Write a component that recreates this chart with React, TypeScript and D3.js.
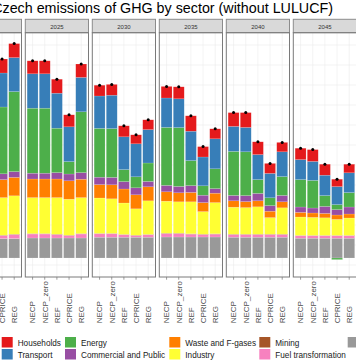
import React from "react";
import * as d3 from "d3";

const years = ["2020", "2025", "2030", "2035", "2040", "2045"];
const scenarios = ["NECP", "NECP_zero", "REF", "CPRICE", "REG"];

// visible bars (first panel only shows its last two bars)
const barYears = ["2020", "2020",
  "2025", "2025", "2025", "2025", "2025",
  "2030", "2030", "2030", "2030", "2030",
  "2035", "2035", "2035", "2035", "2035",
  "2040", "2040", "2040", "2040", "2040",
  "2045", "2045", "2045", "2045", "2045"];
const barScenarios = ["CPRICE", "REG",
  ...scenarios, ...scenarios, ...scenarios, ...scenarios, ...scenarios];

const agriculture = [9.7, 9.7, 10, 10, 10, 10, 10, 10.4, 10.4, 10.4, 10.4, 10.4, 10.5, 10.5, 10.5, 10.5, 10.5, 10.4, 10.4, 10.4, 10.4, 10.4, 9.9, 9.9, 9.9, 9.9, 9.9];
const fuelTransformation = [1.5, 2.0, 2, 2, 1.7, 1.2, 2, 1.7, 1.7, 1.2, 0.8, 1.2, 1.7, 1.7, 1.4, 1.2, 1.4, 1.3, 1.3, 1.3, 1.3, 1.3, 1.2, 1.2, 1.2, 1.2, 1.2];
const mining = [0.2, 0.2, 0.2, 0.2, 0.2, 0.2, 0.2, 0.2, 0.2, 0.2, 0.2, 0.2, 0.2, 0.2, 0.2, 0.2, 0.2, 0.2, 0.2, 0.2, 0.2, 0.2, 0.2, 0.2, 0.2, 0.2, 0.2];
const industry = [18.8, 19.2, 18.0, 18.0, 18.3, 18.0, 18.0, 17.7, 17.3, 15.7, 13.2, 16.8, 16.0, 15.7, 16.0, 11.3, 15.6, 13.5, 13.3, 13.7, 8.3, 13.2, 9.2, 9.0, 8.8, 8.0, 8.7];
const waste = [9.0, 9.2, 9.3, 9.3, 9.3, 9.2, 9.2, 6.7, 7.0, 7.0, 7.0, 7.0, 4.7, 4.5, 4.7, 4.5, 4.7, 3.2, 3.0, 3.0, 3.2, 3.0, 2.3, 2.2, 2.2, 2.2, 2.0];
const commercial = [2.9, 2.9, 2.9, 2.9, 3.2, 3.4, 3.3, 3.7, 3.7, 3.7, 3.5, 2.7, 3.2, 3.2, 3.4, 3.7, 2.3, 2.7, 3.0, 3.7, 2.8, 3.2, 2.7, 2.5, 3.5, 2.7, 3.5];
const energy = [33.4, 40.0, 32.5, 32.5, 22.2, 6.2, 30.4, 24.4, 24.4, 6.0, 5.5, 9.2, 29.0, 29.4, 12.5, 4.7, 9.9, 22.0, 21.9, 6.9, 3.9, 9.4, 13.7, 13.8, 5.4, 2.5, 7.2];
const energyNegative = [0, 0, 0, 0, 0, 0, 0, 0, 0, 0, 0, 0, 0, 0, 0, 0, 0, 0, 0, 0, 0, 0, 0, 0, 0, -0.8, 0];
const transport = [17.0, 17.0, 17.2, 17.2, 17.5, 17.4, 17.2, 16.2, 16.7, 16.4, 16.5, 16.7, 14.7, 14.4, 14.7, 14.4, 15.0, 12.5, 12.2, 12.5, 12.2, 12.4, 10.0, 9.5, 10.2, 9.0, 9.9];
const households = [7.0, 7.0, 6.5, 6.5, 7.0, 6.0, 6.7, 5.4, 5.4, 5.5, 4.5, 4.9, 5.8, 6.0, 7.7, 5.2, 5.0, 6.9, 7.4, 6.4, 5.0, 4.7, 5.7, 5.9, 5.5, 3.7, 4.3];

const legendLabels = ["Households", "Transport", "Energy", "Commercial and Public", "Waste and F-gases", "Industry", "Mining", "Fuel transformation", "Agriculture"];
const legendColors = ["#E41A1C", "#377EB8", "#4DAF4A", "#984EA3", "#FF7F00", "#FFFF33", "#A65628", "#F781BF", "#999999"];

const gridValues = [-3.5, 6.5, 16.5, 26.5, 36.5, 46.5, 56.5, 66.5, 76.5, 86.5, 96.5, 106.5];

const title = "Czech emissions of GHG by sector (without LULUCF)";

const seriesKeys = ["Agriculture", "Fuel transformation", "Mining", "Industry", "Waste and F-gases", "Commercial and Public", "Energy", "EnergyNeg", "Transport", "Households"];
const seriesArrays: Record<string, number[]> = {
  "Agriculture": agriculture,
  "Fuel transformation": fuelTransformation,
  "Mining": mining,
  "Industry": industry,
  "Waste and F-gases": waste,
  "Commercial and Public": commercial,
  "Energy": energy,
  "EnergyNeg": energyNegative,
  "Transport": transport,
  "Households": households,
};
const colorOf = (k: string) => k === "EnergyNeg" ? legendColors[2] : legendColors[legendLabels.indexOf(k)];

export default function App() {
  const W = 356, H = 364;
  const panelW = 63.2;
  const panelTop = 32.7, panelBottom = 277, stripTop = 19.3;
  const y = d3.scaleLinear().domain([0, 100]).range([258, 58]);
  const panelLeft = d3.scaleLinear().domain([0, 1]).range([-41.7, 25.3]);
  const band = d3.scaleBand<string>().domain(scenarios).range([0, panelW]).paddingInner(0.1).paddingOuter(0.15);

  const rows = barYears.map((yr, i) => {
    const r: any = { year: yr, scenario: barScenarios[i] };
    seriesKeys.forEach(k => { r[k] = seriesArrays[k][i]; });
    return r;
  });
  const stacked = d3.stack<any>().keys(seriesKeys).offset(d3.stackOffsetDiverging)(rows);
  const barX = (i: number) => panelLeft(years.indexOf(barYears[i])) + (band(barScenarios[i]) as number);
  const totals = rows.map((r, i) => d3.sum(seriesKeys, k => Math.max(0, seriesArrays[k][i])));

  const font = "'Liberation Sans', Arial, sans-serif";

  return (
    <svg width={W} height={H} style={{ position: "absolute", left: 0, top: 0, background: "#fff" }} fontFamily={font}>
      <text x={333} y={13} fontSize={14.3} textAnchor="end" fill="#000">{title}</text>
      {years.map((yr, p) => {
        const x0 = panelLeft(p);
        return (
          <g key={yr}>
            <rect x={x0} y={panelTop} width={panelW} height={panelBottom - panelTop} fill="#fff" />
            {gridValues.map(v => (
              <line key={v} x1={x0} x2={x0 + panelW} y1={y(v)} y2={y(v)} stroke="#ebebeb" strokeWidth={0.6} />
            ))}
            {scenarios.map(s => {
              const cx = x0 + (band(s) as number) + band.bandwidth() / 2;
              return <line key={s} x1={cx} x2={cx} y1={panelTop} y2={panelBottom} stroke="#ebebeb" strokeWidth={0.6} />;
            })}
            <rect x={x0} y={stripTop} width={panelW} height={panelTop - stripTop} fill="#d9d9d9" stroke="#8c8c8c" strokeWidth={1} />
            <text x={x0 + panelW / 2} y={29.2} fontSize={6} textAnchor="middle" fill="#333">{yr}</text>
            {scenarios.map(s => {
              const cx = x0 + (band(s) as number) + band.bandwidth() / 2;
              return (
                <g key={"ax" + s}>
                  <line x1={cx} x2={cx} y1={panelBottom} y2={panelBottom + 2.7} stroke="#555" strokeWidth={0.6} />
                  <text transform={`translate(${cx + 2.8},323.3) rotate(-90)`} fontSize={8} fill="#4d4d4d" textAnchor="start">{s}</text>
                </g>
              );
            })}
          </g>
        );
      })}
      {stacked.map(series => (
        <g key={series.key} fill={colorOf(series.key)}>
          {series.map((d, i) => {
            const h = Math.abs(y(d[0]) - y(d[1]));
            if (h < 0.01) return null;
            return (
              <rect key={i} x={barX(i)} width={band.bandwidth()} y={Math.min(y(d[0]), y(d[1]))} height={h}
                stroke="#fff" strokeOpacity={0.3} strokeWidth={0.5} />
            );
          })}
        </g>
      ))}
      {totals.map((t, i) => (
        <circle key={i} cx={barX(i) + band.bandwidth() / 2} cy={y(t)} r={1.5} fill="#000" />
      ))}
      {years.map((yr, p) => (
        <rect key={"b" + yr} x={panelLeft(p)} y={panelTop} width={panelW} height={panelBottom - panelTop} fill="none" stroke="#7a7a7a" strokeWidth={1} />
      ))}
      {legendLabels.map((lab, i) => {
        const colX = [1.7, 65, 169.3, 259.3, 347.7][Math.floor(i / 2)];
        const ky = i % 2 === 0 ? 337 : 349;
        return (
          <g key={lab}>
            <rect x={colX} y={ky} width={11} height={10.5} fill={legendColors[i]} />
            <text x={colX + 16} y={ky + 8.8} fontSize={8.2} fill="#1a1a1a">{lab}</text>
          </g>
        );
      })}
    </svg>
  );
}
